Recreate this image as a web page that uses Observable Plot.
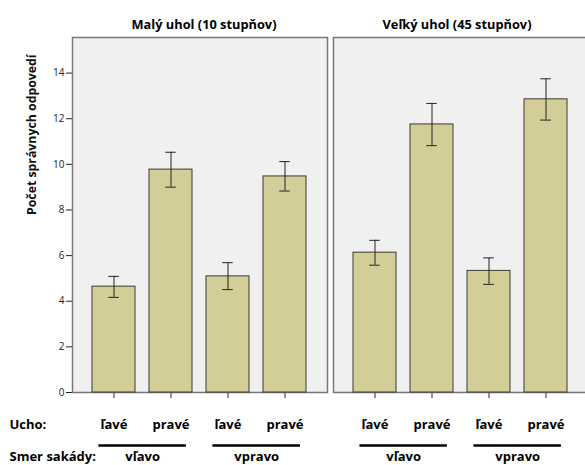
<!DOCTYPE html>
<html>
<head>
<meta charset="utf-8">
<script src="https://cdn.jsdelivr.net/npm/d3@7"></script>
<script src="https://cdn.jsdelivr.net/npm/@observablehq/plot@0.6"></script>
<style>
  html, body { margin: 0; padding: 0; background: white; overflow: hidden; width: 585px; height: 465px; }
  #chart svg { max-width: none !important; display: block; }
</style>
</head>
<body>
<div id="chart"></div>
<script>
const panels = ["Malý uhol (10 stupňov)", "Veľký uhol (45 stupňov)"];
const smer = ["vľavo", "vľavo", "vpravo", "vpravo"];
const ucho = ["ľavé", "pravé", "ľavé", "pravé"];
const meanSmall = [4.64, 9.77, 5.09, 9.47];
const loSmall   = [4.17, 9.00, 4.51, 8.83];
const hiSmall   = [5.09, 10.53, 5.69, 10.12];
const meanLarge = [6.13, 11.75, 5.33, 12.85];
const loLarge   = [5.58, 10.82, 4.74, 11.94];
const hiLarge   = [6.67, 12.67, 5.90, 13.75];
const yTicks = [0, 2, 4, 6, 8, 10, 12, 14];
const groups = ["vľavo", "vpravo"];
const rowLabels = ["Ucho:", "Smer sakády:"];
const yLabel = "Počet správnych odpovedí";

const keys = smer.map((s, i) => s + "|" + ucho[i]);
const rows = [];
[[meanSmall, loSmall, hiSmall], [meanLarge, loLarge, hiLarge]].forEach(([m, lo, hi], p) => {
  keys.forEach((k, i) => rows.push({panel: panels[p], key: k, ucho: ucho[i], mean: m[i], lo: lo[i], hi: hi[i]}));
});
const groupRows = [];
panels.forEach(p => groups.forEach(g => groupRows.push({panel: p, key: keys[smer.indexOf(g)], label: g})));

const font = "'Open Sans', sans-serif";
const step = 57.33;
const row1 = 32, row2 = 64;

const chart = Plot.plot({
  width: 588,
  height: 465,
  marginLeft: 72,
  marginRight: 0,
  marginTop: 37,
  marginBottom: 73,
  style: {fontFamily: font, background: "white", color: "#222", overflow: "visible"},
  fx: {domain: panels, paddingInner: 6 / 261, paddingOuter: 0, axis: null},
  x: {domain: keys, paddingInner: 0.241, paddingOuter: 0.345, tickSize: 6, tickFormat: () => "", label: null},
  y: {domain: [0, 15.56], ticks: yTicks, tickSize: 6, tickFormat: d => String(d), label: null, tickPadding: 2},
  marks: [
    Plot.frame({fill: "#f0f0f0", stroke: "#777", strokeWidth: 1.5}),
    Plot.barY(rows, {fx: "panel", x: "key", y: "mean", fill: "#d3ce98", stroke: "#3a3a30", strokeWidth: 1}),
    Plot.ruleX(rows, {fx: "panel", x: "key", y1: "lo", y2: "hi", stroke: "#222", strokeWidth: 1}),
    Plot.tickY(rows, {fx: "panel", x: "key", y: "lo", stroke: "#222", strokeWidth: 1, insetLeft: 16.25, insetRight: 16.25}),
    Plot.tickY(rows, {fx: "panel", x: "key", y: "hi", stroke: "#222", strokeWidth: 1, insetLeft: 16.25, insetRight: 16.25}),
    Plot.text([panels[0]], {fx: d => d, frameAnchor: "top", dy: -18, dx: 4, text: d => d, fontSize: 12.8, fontWeight: "bold", fill: "#000"}),
    Plot.text([panels[1]], {fx: d => d, frameAnchor: "top", dy: -18, dx: -4, text: d => d, fontSize: 12.8, fontWeight: "bold", fill: "#000"}),
    Plot.text([yLabel], {fx: () => panels[0], frameAnchor: "left", dx: -40, rotate: -90, text: d => d, fontSize: 12.3, fontWeight: "bold", fill: "#111"}),
    Plot.text(rows, {fx: "panel", x: "key", frameAnchor: "bottom", dy: row1, text: "ucho", fontSize: 13, fontWeight: "bold", fill: "#000", lineAnchor: "middle"}),
    Plot.tickY(groupRows, {fx: "panel", x: "key", y: () => 0, dy: 53, stroke: "#000", strokeWidth: 2.5, insetLeft: 6.4, insetRight: -50.9}),
    Plot.text(groupRows, {fx: "panel", x: "key", frameAnchor: "bottom", dx: step / 2, dy: row2, text: "label", fontSize: 13, fontWeight: "bold", fill: "#000", lineAnchor: "middle"}),
    Plot.text(rowLabels.slice(0, 1), {fx: () => panels[0], frameAnchor: "bottom-left", dx: -63, dy: row1, text: d => d, fontSize: 13, fontWeight: "bold", fill: "#000", textAnchor: "start", lineAnchor: "middle"}),
    Plot.text(rowLabels.slice(1), {fx: () => panels[0], frameAnchor: "bottom-left", dx: -63, dy: row2, text: d => d, fontSize: 13, fontWeight: "bold", fill: "#000", textAnchor: "start", lineAnchor: "middle"})
  ]
});
document.getElementById("chart").appendChild(chart);
</script>
</body>
</html>
